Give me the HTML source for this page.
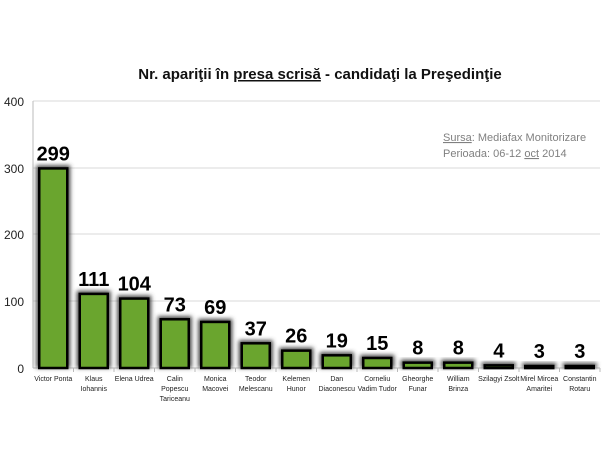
<!DOCTYPE html>
<html><head><style>
body{margin:0;background:#fff;}
svg{display:block;font-family:"Liberation Sans",sans-serif;}
</style></head><body>
<svg width="604" height="454" xmlns="http://www.w3.org/2000/svg">
<defs><filter id="g" x="-30%" y="-30%" width="160%" height="160%"><feGaussianBlur stdDeviation="2"/></filter></defs>
<text x="320" y="79" text-anchor="middle" font-size="15" font-weight="bold" fill="#111">Nr. apariţii în <tspan text-decoration="underline">presa scrisă</tspan>  - candidaţi la Preşedinţie</text>
<g stroke="#d9d9d9" stroke-width="1">
<line x1="33" y1="101" x2="600" y2="101"/><line x1="33" y1="168" x2="600" y2="168"/>
<line x1="33" y1="234" x2="600" y2="234"/><line x1="33" y1="301" x2="600" y2="301"/>
</g>
<line x1="33" y1="368" x2="600" y2="368" stroke="#bbb"/>
<line x1="33" y1="101" x2="33" y2="368" stroke="#bbb"/>
<g font-size="12" fill="#222" text-anchor="end">
<text x="24" y="106">400</text><text x="24" y="173">300</text><text x="24" y="239">200</text><text x="24" y="306">100</text><text x="24" y="373">0</text>
</g>
<text x="443" y="141" font-size="11" fill="#808080"><tspan text-decoration="underline" text-decoration-color="red">Sursa</tspan>: Mediafax Monitorizare</text>
<text x="443" y="157" font-size="11" fill="#808080">Perioada: 06-12 <tspan text-decoration="underline">oct</tspan> 2014</text>
<g id="bars"></g>
</svg>
<script>
var d=[["Victor Ponta",299],["Klaus|Iohannis",111],["Elena Udrea",104],["Calin|Popescu|Tariceanu",73],["Monica|Macovei",69],["Teodor|Melescanu",37],["Kelemen|Hunor",26],["Dan|Diaconescu",19],["Corneliu|Vadim Tudor",15],["Gheorghe|Funar",8],["William|Brinza",8],["Szilagyi Zsolt",4],["Mirel Mircea|Amaritei",3],["Constantin|Rotaru",3]];
var g=document.getElementById('bars'),s="";
var cw=567/14;
d.forEach(function(e,i){var cx=33+cw*(i+0.5),h=e[1]*0.6675,y=368-h,w=28;
s+='<rect x="'+(cx-w/2-3)+'" y="'+(y-3)+'" width="'+(w+6)+'" height="'+(h+3)+'" fill="#444" filter="url(#g)"/>';
s+='<rect x="'+(cx-w/2)+'" y="'+y+'" width="'+w+'" height="'+h+'" fill="#6aa52e" stroke="#000" stroke-width="2.5"/>';
s+='<text x="'+cx+'" y="'+(y-8)+'" text-anchor="middle" font-size="20" font-weight="bold" fill="#000">'+e[1]+'</text>';
s+='<line x1="'+(33+cw*(i+1))+'" y1="368" x2="'+(33+cw*(i+1))+'" y2="372" stroke="#bbb"/>';
e[0].split('|').forEach(function(t,j){s+='<text x="'+cx+'" y="'+(381+j*10)+'" text-anchor="middle" font-size="7" fill="#222">'+t+'</text>';});
});
g.innerHTML=s;
</script>
</body></html>
